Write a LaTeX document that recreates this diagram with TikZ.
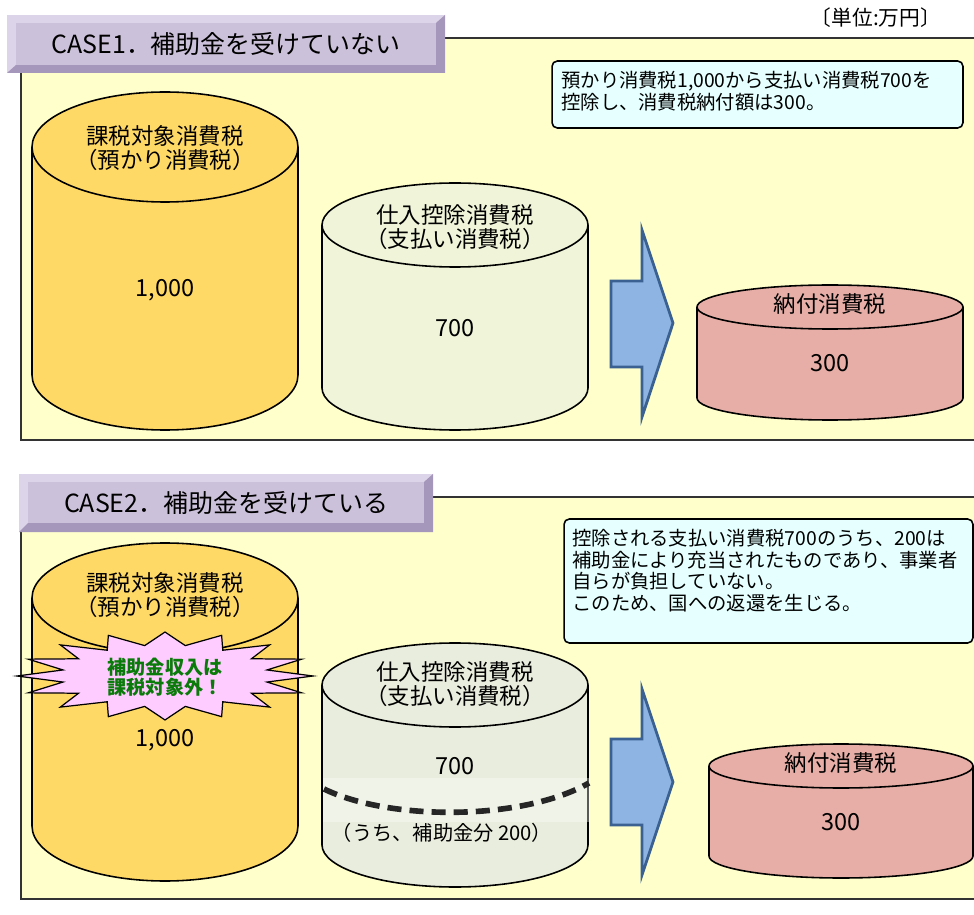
\documentclass[tikz,border=0pt]{standalone}
\usepackage{fontspec}
\setmainfont{Noto Sans CJK JP}

\definecolor{panelfill}{HTML}{FFFFCC}
\definecolor{barface}{HTML}{CCC1DA}
\definecolor{barlight}{HTML}{DCD4E8}
\definecolor{bardark}{HTML}{A596BB}
\definecolor{notefill}{HTML}{E6FFFF}
\definecolor{tankgold}{HTML}{FFD966}
\definecolor{tankpale}{HTML}{F0F4D8}
\definecolor{tankgray}{HTML}{E9EDDD}
\definecolor{tankred}{HTML}{E6AEA6}
\definecolor{arrowfill}{HTML}{8DB4E2}
\definecolor{arrowline}{HTML}{3B6192}
\definecolor{burstfill}{HTML}{FFCCFF}
\definecolor{bursttext}{HTML}{0A7A0A}

\tikzset{
  panel/.style={fill=panelfill, draw=black!80, line width=1pt},
  casebar/.style={fill=barface, inner sep=0pt, font=\fontsize{14.2}{16}\selectfont},
  unitlabel/.style={font=\fontsize{11.8}{13}\selectfont},
  note/.style={fill=notefill, draw=black, line width=0.9pt, rounded corners=3pt},
  notetext/.style={anchor=north west, inner sep=0pt, align=left, font=\fontsize{11}{12.3}\selectfont},
  tankline/.style={draw=black, line width=0.9pt},
  tanklabel/.style={align=center, font=\fontsize{12.8}{13.4}\selectfont},
  tanknum/.style={font=\fontsize{13.4}{14}\selectfont},
  tanksmall/.style={font=\fontsize{11.5}{13}\selectfont},
  fatarrow/.style={fill=arrowfill, draw=arrowline, line width=1.6pt, line join=miter},
  burst/.style={fill=burstfill, draw=black, line width=0.7pt},
  burstlabel/.style={align=center, text=bursttext, font=\fontsize{10.9}{11.4}\selectfont\bfseries},
  subsidyline/.style={draw=black!85, line width=3.2pt, dash pattern=on 8pt off 4.6pt}
}

% cylinder: centre x, top y, bottom y, x radius, y radius, colour
\newcommand{\tank}[6]{%
  \filldraw[fill=#6, tankline] (#1,#3) ellipse [x radius=#4, y radius=#5];
  \fill[#6] ({#1-#4},#2) rectangle ({#1+#4},#3);
  \draw[tankline] ({#1-#4},#2) -- ({#1-#4},#3) ({#1+#4},#2) -- ({#1+#4},#3);
  \filldraw[fill=#6, tankline] (#1,#2) ellipse [x radius=#4, y radius=#5];
}

\begin{document}
\begin{tikzpicture}[x=0.02cm,y=-0.02cm]
\useasboundingbox (0,0) rectangle (974,915);
\clip (0,0) rectangle (974,915);

% CASE 1
\draw[panel] (21,38) rectangle (990,440);
\fill[barlight] (7,15) rectangle (445,73);
\fill[bardark] (445,15) -- (445,73) -- (7,73) -- (16,65) -- (436,65) -- (436,23) -- cycle;
\node[casebar, minimum width=8.4cm, minimum height=0.84cm] (case1) at (226,44) {CASE1．補助金を受けていない};
\node[unitlabel] (unit) at (876,18) {〔単位:万円〕};

\node[note, minimum width=8.22cm, minimum height=1.34cm] (note1) at (757.5,94.5) {};
\node[notetext] (note1txt) at (561,71) {預かり消費税1,000から支払い消費税700を\\控除し、消費税納付額は300。};

\tank{165}{147}{375}{133}{55}{tankgold}
\node[tanklabel] (tax1) at (165,148) {課税対象消費税\\（預かり消費税）};
\node[tanknum] (tax1num) at (165,290) {1,000};

\tank{455}{225}{388}{133}{42}{tankpale}
\node[tanklabel] (pay1) at (455,227) {仕入控除消費税\\（支払い消費税）};
\node[tanknum] (pay1num) at (455,328) {700};

\draw[fatarrow] (611,281) -- (642,281) -- (642,230) -- (673,323) -- (642,417) -- (642,367) -- (611,367) -- cycle;

\tank{830}{307}{398}{133}{22}{tankred}
\node[tanklabel] (due1) at (830,304) {納付消費税};
\node[tanknum] (due1num) at (830,363) {300};

% CASE 2
\draw[panel] (21,497) rectangle (990,899);
\fill[barlight] (19,474) rectangle (433,532);
\fill[bardark] (433,474) -- (433,532) -- (19,532) -- (28,523) -- (424,523) -- (424,482) -- cycle;
\node[casebar, minimum width=7.92cm, minimum height=0.82cm] (case2) at (226,502.5) {CASE2．補助金を受けている};

\node[note, minimum width=8.18cm, minimum height=2.48cm] (note2) at (768.5,581) {};
\node[notetext] (note2txt) at (572,529) {控除される支払い消費税700のうち、200は\\補助金により充当されたものであり、事業者\\自らが負担していない。\\このため、国への返還を生じる。};

\tank{165}{598}{826}{133}{55}{tankgold}
\node[tanklabel] (tax2) at (165,595) {課税対象消費税\\（預かり消費税）};
\node[tanknum] (tax2num) at (165,740) {1,000};

\draw[burst] (313,676) \foreach \a in {0,22.5,...,337.5} {
  -- ({165+104*cos(\a+11.25)},{676+31*sin(\a+11.25)})
  -- ({165+148*cos(\a+22.5)},{676+44*sin(\a+22.5)}) } -- cycle;
\node[burstlabel] (burst) at (165,677) {補助金収入は\\課税対象外！};

\tank{455}{685}{845}{133}{42}{tankgray}
\node[tanklabel] (pay2) at (455,684) {仕入控除消費税\\（支払い消費税）};
\node[tanknum] (pay2num) at (455,766) {700};
\fill[white, opacity=0.35] (323,778) rectangle (590,822);
\draw[subsidyline] (324,789) .. controls (390,821) and (522,821) .. (589,783);
\node[tanksmall] (sub2) at (442,833) {（うち、補助金分 200）};

\draw[fatarrow] (611,739) -- (642,739) -- (642,689) -- (673,782) -- (642,875) -- (642,825) -- (611,825) -- cycle;

\tank{841}{766}{856}{132}{22}{tankred}
\node[tanklabel] (due2) at (841,763) {納付消費税};
\node[tanknum] (due2num) at (841,822) {300};
\end{tikzpicture}
\end{document}
